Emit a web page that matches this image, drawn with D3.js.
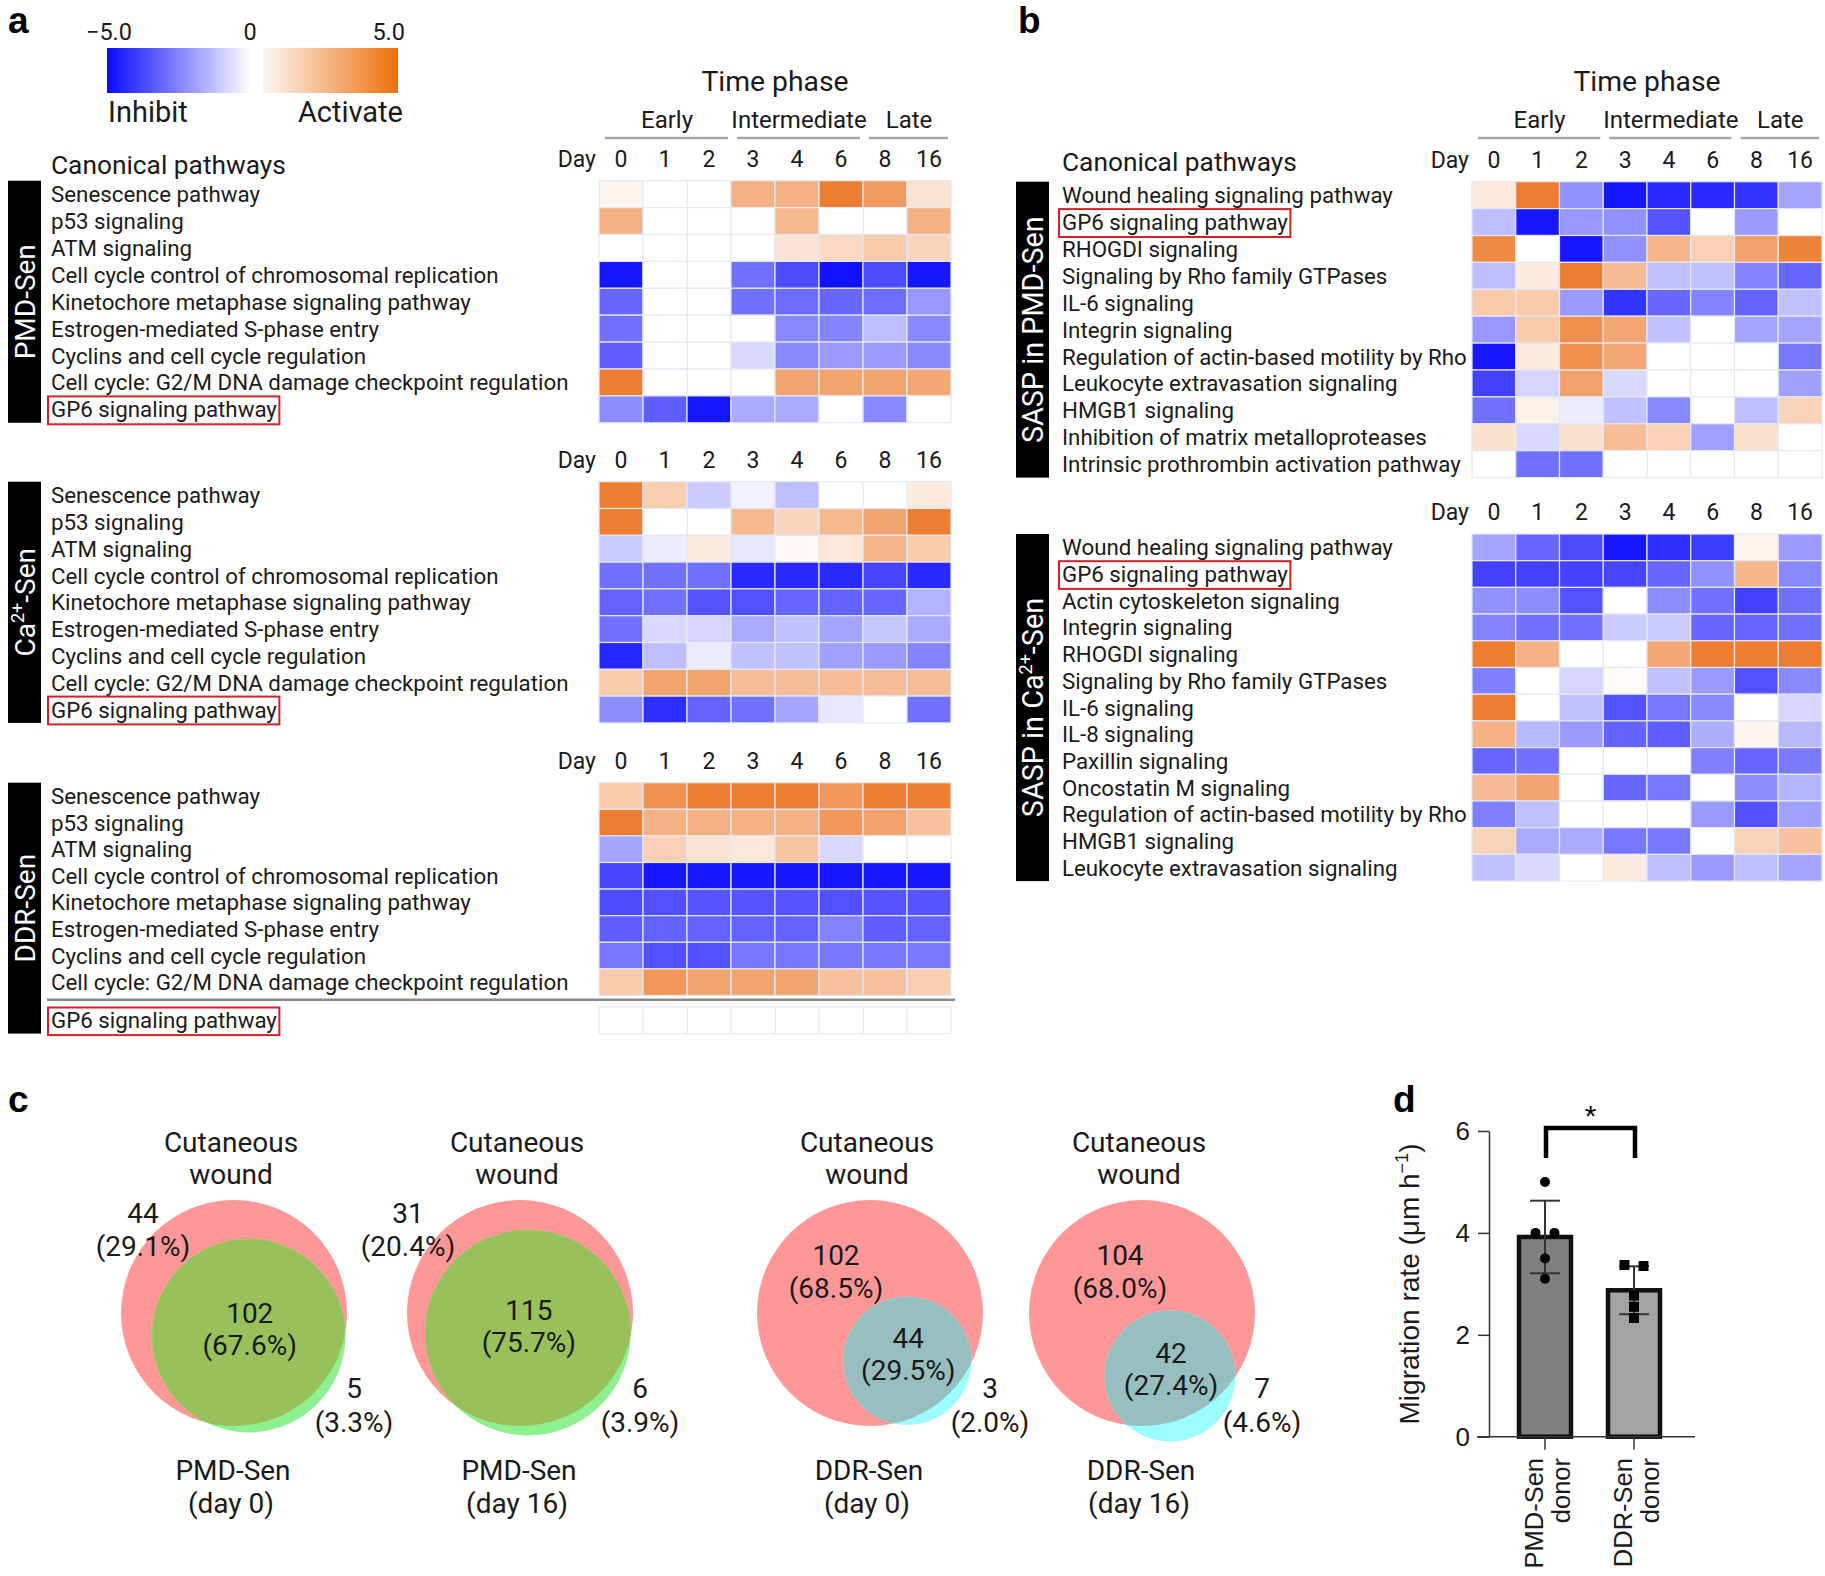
<!DOCTYPE html>
<html><head><meta charset="utf-8">
<script src="https://cdn.jsdelivr.net/npm/d3@7"></script>
<style>
body{margin:0;background:#fff;}
svg{display:block;font-family:Roboto,"Noto Sans",sans-serif;}
</style>
</head><body>
<svg id="fig" width="1825" height="1576"></svg>
<script>
// ---------------- DATA ----------------
const days = ["0","1","2","3","4","6","8","16"];
const phaseNames = ["Early","Intermediate","Late"];
const phaseStart = [0,3,6];
const phaseEnd = [2,5,7];
const legendTicks = ["\u22125.0","0","5.0"];
const legendWords = ["Inhibit","Activate"];

const cellPathways = ["Senescence pathway","p53 signaling","ATM signaling",
 "Cell cycle control of chromosomal replication","Kinetochore metaphase signaling pathway",
 "Estrogen-mediated S-phase entry","Cyclins and cell cycle regulation",
 "Cell cycle: G2/M DNA damage checkpoint regulation","GP6 signaling pathway"];

const pmdSenZ = [
 [0.4,0,0,3.0,3.0,5.0,3.9,1.1],
 [3.0,0,0,0,2.7,0,0,3.0],
 [0,0,0,0,1.1,1.5,2.0,1.6],
 [-4.9,0,0,-3.0,-3.8,-5.0,-3.8,-4.9],
 [-3.2,0,0,-3.0,-3.1,-3.2,-3.1,-2.2],
 [-3.0,0,0,0,-2.5,-2.6,-1.4,-2.5],
 [-3.4,0,0,-0.8,-2.5,-2.1,-2.1,-2.5],
 [5.0,0,0,0,3.5,3.5,3.5,3.4],
 [-2.4,-3.4,-4.9,-1.8,-1.8,0,-2.5,0]];
const caSenZ = [
 [5.0,1.9,-1.1,-0.3,-1.4,0,0,0.8],
 [5.0,0,0,2.7,1.6,2.7,3.5,5.0],
 [-1.1,-0.4,0.8,-0.5,0.3,0.9,2.8,2.0],
 [-3.0,-3.0,-3.0,-4.5,-4.5,-4.5,-3.9,-4.5],
 [-3.3,-3.0,-3.6,-3.7,-3.2,-3.3,-3.2,-1.6],
 [-3.0,-0.8,-0.9,-1.8,-1.3,-1.9,-1.2,-1.8],
 [-4.6,-1.4,-0.4,-1.3,-1.3,-2.0,-2.1,-2.6],
 [2.0,3.5,3.5,2.5,2.5,2.5,2.5,2.5],
 [-2.4,-4.4,-3.3,-3.0,-1.9,-0.5,0,-3.0]];
const ddrSenZ = [
 [2.0,4.2,5.0,5.0,5.0,4.0,5.0,5.0],
 [5.0,3.0,3.0,3.0,3.0,4.0,3.6,2.4],
 [-1.9,1.8,1.1,0.9,2.3,-0.8,0,0],
 [-3.9,-4.9,-4.9,-4.9,-4.9,-4.9,-4.9,-4.9],
 [-3.8,-3.7,-3.6,-3.6,-3.6,-3.7,-3.6,-3.6],
 [-3.4,-3.3,-3.3,-3.3,-3.3,-2.6,-3.4,-3.3],
 [-2.9,-3.7,-3.7,-2.9,-2.9,-2.9,-2.9,-2.8],
 [2.0,4.0,3.5,3.5,3.5,2.4,2.4,1.9],
 [0,0,0,0,0,0,0,0]];

const saspPmdPathways = ["Wound healing signaling pathway","GP6 signaling pathway","RHOGDI signaling",
 "Signaling by Rho family GTPases","IL-6 signaling","Integrin signaling",
 "Regulation of actin-based motility by Rho","Leukocyte extravasation signaling","HMGB1 signaling",
 "Inhibition of matrix metalloproteases","Intrinsic prothrombin activation pathway"];
const saspPmdZ = [
 [0.8,5.0,-2.3,-4.9,-4.5,-4.5,-4.3,-1.9],
 [-1.4,-4.9,-2.2,-2.3,-3.6,0,-2.1,0],
 [4.5,0,-4.9,-2.3,2.8,1.8,3.6,4.8],
 [-1.4,0.8,5.0,2.6,-1.3,-1.3,-2.6,-3.2],
 [2.0,2.0,-2.1,-4.3,-3.2,-2.6,-3.3,-1.3],
 [-2.2,2.0,4.3,3.4,-1.3,0,-1.9,-1.9],
 [-4.9,0.8,4.3,3.4,0,0,0,-2.9],
 [-4.0,-0.9,3.6,-0.8,0,0,0,-2.0],
 [-3.0,0.5,-0.4,-1.3,-2.5,0,-1.4,1.7],
 [1.2,-0.8,1.2,2.5,1.8,-2.0,1.2,0],
 [0,-3.0,-3.0,0,0,0,0,0]];

const saspCaPathways = ["Wound healing signaling pathway","GP6 signaling pathway","Actin cytoskeleton signaling",
 "Integrin signaling","RHOGDI signaling","Signaling by Rho family GTPases","IL-6 signaling","IL-8 signaling",
 "Paxillin signaling","Oncostatin M signaling","Regulation of actin-based motility by Rho",
 "HMGB1 signaling","Leukocyte extravasation signaling"];
const saspCaZ = [
 [-1.9,-3.2,-3.8,-4.9,-4.4,-4.1,0.4,-2.1],
 [-4.0,-4.0,-4.0,-3.9,-3.2,-2.3,2.8,-2.5],
 [-2.3,-2.4,-3.6,0,-2.4,-3.0,-4.0,-3.0],
 [-2.6,-3.0,-3.0,-1.1,-1.1,-3.2,-3.2,-3.0],
 [5.0,3.0,0,0,3.4,5.0,5.0,5.0],
 [-2.7,0,-0.9,0.2,-1.3,-2.1,-3.7,-2.5],
 [5.0,0,-1.3,-3.6,-2.9,-2.5,0,-0.9],
 [3.0,-1.5,-2.1,-3.3,-3.4,-1.7,0.4,-1.5],
 [-3.2,-3.0,0,0,0,-2.7,-3.2,-2.8],
 [2.6,3.5,0,-3.2,-2.9,0,-2.4,-1.6],
 [-2.7,-1.3,0,0,0,-2.1,-3.7,-2.0],
 [1.7,-1.8,-1.8,-2.9,-2.9,0,1.7,2.4],
 [-1.3,-0.8,0,0.8,-1.4,-2.1,-1.4,-1.9]];

// Venn (panel c)
const vennTitle = ["Cutaneous","wound"];
const vennSets = [["PMD-Sen","(day 0)"],["PMD-Sen","(day 16)"],["DDR-Sen","(day 0)"],["DDR-Sen","(day 16)"]];
const vennCounts = [[44,102,5],[31,115,6],[102,44,3],[104,42,7]]; // woundOnly, both, senOnly
const vennPercents = [["29.1%","67.6%","3.3%"],["20.4%","75.7%","3.9%"],["68.5%","29.5%","2.0%"],["68.0%","27.4%","4.6%"]];

// Bar chart (panel d)
const donorGroups = ["PMD-Sen donor","DDR-Sen donor"];
const pmdDonorRates = [5.0,4.0,4.0,3.5,3.1];
const ddrDonorRates = [3.37,3.35,2.77,2.55,2.33];
const yTicks = [0,2,4,6];

// ---------------- DRAW ----------------
const svg = d3.select("#fig");
const TXT = "#1a1a1a";
const LAB = 22.3;
const color = d3.scaleLinear().domain([-5,0,5]).range(["#1212ff","#ffffff","#ed7d31"]).clamp(true);

// panel letters
const letters = [["a",8,33],["b",1018,33],["c",8,1112],["d",1393,1112]];
svg.selectAll("text.panel").data(letters).join("text").attr("class","panel")
 .attr("x",d=>d[1]).attr("y",d=>d[2]).text(d=>d[0])
 .style("font-family","'Liberation Sans',Arial,sans-serif").style("font-weight","bold").style("font-size","37px").attr("fill","#000");

// legend
const defs = svg.append("defs");
const gb = defs.append("linearGradient").attr("id","gBlue");
gb.append("stop").attr("offset","0%").attr("stop-color","#0a0aff");
gb.append("stop").attr("offset","100%").attr("stop-color","#ffffff");
const go = defs.append("linearGradient").attr("id","gOrange");
go.append("stop").attr("offset","0%").attr("stop-color","#fdf6f1");
go.append("stop").attr("offset","100%").attr("stop-color","#ee700e");
const lg = svg.append("g");
const lx = d3.scaleLinear().domain([-5,0,5]).range([107,257,398]);
lg.append("rect").attr("x",lx(-5)).attr("y",48).attr("width",lx(0)-6-lx(-5)).attr("height",45).attr("fill","url(#gBlue)");
lg.append("rect").attr("x",lx(0)+6).attr("y",48).attr("width",lx(5)-lx(0)-6).attr("height",45).attr("fill","url(#gOrange)");
lg.selectAll("text.lt").data(legendTicks).join("text").attr("class","lt")
 .attr("x",(d,i)=>[lx(-5)+2,250,405][i]).attr("y",40)
 .attr("text-anchor",(d,i)=>i==2?"end":"middle").attr("font-size",23.5).attr("fill",TXT).text(d=>d);
lg.selectAll("text.lw").data(legendWords).join("text").attr("class","lw")
 .attr("x",(d,i)=>[108,403][i]).attr("y",122).attr("text-anchor",(d,i)=>i?"end":"start")
 .attr("font-size",29).attr("fill",TXT).text(d=>d);

// phase header
function phaseHeader(x0,x1){
 const x = d3.scaleBand().domain(days).range([x0,x1]);
 const g = svg.append("g");
 g.append("text").attr("x",(x0+x1)/2).attr("y",91).attr("text-anchor","middle").attr("font-size",28.3).attr("fill",TXT).text("Time phase");
 phaseNames.forEach((p,i)=>{
  const a = x(days[phaseStart[i]]), b = x(days[phaseEnd[i]])+x.bandwidth();
  g.append("text").attr("x",(a+b)/2+2).attr("y",128).attr("text-anchor","middle").attr("font-size",24).attr("fill",TXT).text(p);
  g.append("line").attr("x1",a+6).attr("x2",b-3).attr("y1",138).attr("y2",138).attr("stroke","#a8a8a8").attr("stroke-width",2.5);
 });
}
phaseHeader(599,951);
phaseHeader(1472,1822);

svg.append("text").attr("x",51).attr("y",174).attr("font-size",26.3).attr("fill",TXT).text("Canonical pathways");
svg.append("text").attr("x",1062).attr("y",171).attr("font-size",26.3).attr("fill",TXT).text("Canonical pathways");

function heatmap(o){
 const n = o.values.length;
 const x = d3.scaleBand().domain(days).range([o.x0,o.x1]);
 const yb = d3.scaleBand().domain(d3.range(n)).range([o.y0,o.y0+n*o.rowH]);
 const y = i => yb(i) + (o.gapAfter!=null && i>o.gapAfter ? o.gap : 0);
 const g = svg.append("g");
 const cells = [];
 o.values.forEach((row,r)=>row.forEach((v,c)=>cells.push({r,c,v})));
 g.selectAll("rect.cell").data(cells).join("rect").attr("class","cell")
  .attr("x",d=>x(days[d.c])).attr("y",d=>y(d.r)).attr("width",x.bandwidth()).attr("height",o.rowH)
  .attr("fill",d=>color(d.v)).attr("stroke","#e4e8f4").attr("stroke-width",1.2);
 // day row
 g.append("text").attr("x",o.x0-3).attr("y",o.dayY).attr("text-anchor","end").attr("font-size",23).attr("fill",TXT).text("Day");
 g.selectAll("text.day").data(days).join("text").attr("class","day")
  .attr("x",d=>x(d)+x.bandwidth()/2).attr("y",o.dayY).attr("text-anchor","middle").attr("font-size",23).attr("fill",TXT).text(d=>d);
 // labels
 const lab = g.selectAll("text.lab").data(o.labels).join("text").attr("class","lab")
  .attr("x",o.labelX).attr("y",(d,i)=>y(i)+o.rowH/2).attr("dy","0.36em").attr("font-size",LAB).attr("fill",TXT).text(d=>d);
 lab.each(function(d,i){
  if(d==="GP6 signaling pathway"){
   const bb = this.getBBox();
   g.append("rect").attr("x",bb.x-3).attr("y",y(i)+0.5).attr("width",bb.width+5).attr("height",o.rowH+1)
    .attr("fill","none").attr("stroke","#d4202a").attr("stroke-width",2);
  }
 });
 // side bar
 const yTop = o.y0, yBot = y(n-1)+o.rowH;
 g.append("rect").attr("x",o.barX).attr("y",yTop).attr("width",33).attr("height",yBot-yTop).attr("fill","#000");
 const t = g.append("text").attr("transform",`translate(${o.barX+16.5+10},${(yTop+yBot)/2}) rotate(-90)`)
  .attr("text-anchor","middle").attr("font-size",o.barFont||28).attr("fill","#fff");
 o.barLabel.forEach(s=>{
  const ts = t.append("tspan").text(s.t);
  if(s.sup){ ts.attr("font-size",18).attr("dy",-11); }
  else if(s.after){ ts.attr("dy",11); }
 });
 if(o.gapAfter!=null){
  const ly = y(o.gapAfter)+o.rowH+ o.gap/2 - 1.5;
  g.append("line").attr("x1",47).attr("x2",o.x1+4).attr("y1",ly).attr("y2",ly).attr("stroke","#8a8a8a").attr("stroke-width",2.5);
 }
}

heatmap({values:pmdSenZ,labels:cellPathways,x0:599,x1:951,y0:180.7,rowH:26.9,labelX:51,barX:8,dayY:167,
 barLabel:[{t:"PMD-Sen"}]});
heatmap({values:caSenZ,labels:cellPathways,x0:599,x1:951,y0:481.7,rowH:26.8,labelX:51,barX:8,dayY:468,
 barLabel:[{t:"Ca"},{t:"2+",sup:true},{t:"-Sen",after:true}]});
heatmap({values:ddrSenZ,labels:cellPathways,x0:599,x1:951,y0:782.7,rowH:26.6,labelX:51,barX:8,dayY:769,
 gapAfter:7,gap:11.5,barLabel:[{t:"DDR-Sen"}]});
heatmap({values:saspPmdZ,labels:saspPmdPathways,x0:1472,x1:1822,y0:181.7,rowH:26.9,labelX:1062,barX:1016,dayY:168,
 barFont:28.8,barLabel:[{t:"SASP in PMD-Sen"}]});
heatmap({values:saspCaZ,labels:saspCaPathways,x0:1472,x1:1822,y0:534,rowH:26.7,labelX:1062,barX:1016,dayY:520,
 barFont:28.8,barLabel:[{t:"SASP in Ca"},{t:"2+",sup:true},{t:"-Sen",after:true}]});

// ---------------- VENN ----------------
function lensArea(r1,r2,d){
 if(d>=r1+r2) return 0;
 if(d<=Math.abs(r1-r2)) return Math.PI*Math.min(r1,r2)**2;
 const a = r1*r1*Math.acos((d*d+r1*r1-r2*r2)/(2*d*r1));
 const b = r2*r2*Math.acos((d*d+r2*r2-r1*r1)/(2*d*r2));
 const c = 0.5*Math.sqrt((-d+r1+r2)*(d+r1-r2)*(d-r1+r2)*(d+r1+r2));
 return a+b-c;
}
const maxTotal = d3.max(vennCounts,d=>d[0]+d[1]);
const rScale = d3.scaleSqrt().domain([0,maxTotal]).range([0,113]);
const vennCxs = [234,520,870,1142];
const vennCy = 1313;
const vennAngle = [57,68,52,66];
const senColors = [["#8ff08f","#98c15c"],["#8ff08f","#98c15c"],["#9dfcff","#98bfc0"],["#9dfcff","#98bfc0"]];
const leftLab = [[-91,-90],[-112,-90],[-34,-48],[-22,-48]];
const VF = 28;
vennCounts.forEach((cnt,i)=>{
 const cx = vennCxs[i], cy = vennCy;
 const r1 = rScale(cnt[0]+cnt[1]), r2 = rScale(cnt[1]+cnt[2]);
 const target = Math.PI*rScale(cnt[1])**2;
 let lo = Math.abs(r1-r2)+1e-6, hi = r1+r2;
 for(let k=0;k<60;k++){ const m=(lo+hi)/2; if(lensArea(r1,r2,m)>target) lo=m; else hi=m; }
 const d = (lo+hi)/2, th = vennAngle[i]*Math.PI/180;
 const cx2 = cx + d*Math.cos(th), cy2 = cy + d*Math.sin(th);
 const g = svg.append("g");
 defs.append("clipPath").attr("id","vc"+i).append("circle").attr("cx",cx).attr("cy",cy).attr("r",r1);
 g.append("circle").attr("cx",cx).attr("cy",cy).attr("r",r1).attr("fill","#fe9898");
 g.append("circle").attr("cx",cx2).attr("cy",cy2).attr("r",r2).attr("fill",senColors[i][0]);
 g.append("circle").attr("cx",cx2).attr("cy",cy2).attr("r",r2).attr("fill",senColors[i][1]).attr("clip-path",`url(#vc${i})`);
 const T = (x,y,s)=>g.append("text").attr("x",x).attr("y",y).attr("text-anchor","middle").attr("font-size",VF).attr("fill",TXT).text(s);
 T(cx-3,1152,vennTitle[0]); T(cx-3,1184,vennTitle[1]);
 T(cx+leftLab[i][0],cy+leftLab[i][1],cnt[0]); T(cx+leftLab[i][0],cy+leftLab[i][1]+33,"("+vennPercents[i][0]+")");
 T(cx2+1,cy2-13,cnt[1]); T(cx2+1,cy2+19,"("+vennPercents[i][1]+")");
 T(cx+120,1398,cnt[2]); T(cx+120,1432,"("+vennPercents[i][2]+")");
 T(cx-1,1480,vennSets[i][0]); T(cx-3,1513,vennSets[i][1]);
});

// ---------------- BAR ----------------
const AR = "'Liberation Sans',Arial,sans-serif";
const yS = d3.scaleLinear().domain([0,6]).range([1436.7,1131]);
const xS = d3.scalePoint().domain(donorGroups).range([1545,1634]);
const bg = svg.append("g").style("font-family",AR);
const groupsData = [pmdDonorRates, ddrDonorRates];
const barFill = ["#808080","#a3a3a3"];
groupsData.forEach((vals,gi)=>{
 const m = d3.mean(vals), sd = d3.deviation(vals), xc = xS(donorGroups[gi]);
 bg.append("rect").attr("x",xc-26).attr("y",yS(m)).attr("width",52).attr("height",yS(0)-yS(m))
  .attr("fill",barFill[gi]).attr("stroke","#111").attr("stroke-width",4.5);
 bg.append("line").attr("x1",xc).attr("x2",xc).attr("y1",yS(m-sd)).attr("y2",yS(m+sd)).attr("stroke","#333").attr("stroke-width",2);
 [m-sd,m+sd].forEach(v=>bg.append("line").attr("x1",xc-15).attr("x2",xc+15).attr("y1",yS(v)).attr("y2",yS(v)).attr("stroke","#333").attr("stroke-width",2));
 vals.forEach((v,i)=>{
  const near = vals.map((w,j)=>j).filter(j=>Math.abs(vals[j]-v)<0.15);
  const k = near.indexOf(i), off = (k-(near.length-1)/2)*19;
  if(gi===0) bg.append("circle").attr("cx",xc+off).attr("cy",yS(v)).attr("r",5).attr("fill","#000");
  else bg.append("rect").attr("x",xc+off-5).attr("y",yS(v)-5).attr("width",10).attr("height",10).attr("fill","#000");
 });
});
const yAx = bg.append("g").attr("transform","translate(1489,0)")
 .call(d3.axisLeft(yS).tickValues(yTicks).tickSize(11).tickSizeOuter(0).tickPadding(8).tickFormat(d3.format("d")));
yAx.selectAll("text").attr("font-size",26).attr("fill",TXT).style("font-family",AR);
yAx.selectAll("line,path").attr("stroke","#333").attr("stroke-width",1.5);
bg.append("line").attr("x1",1477).attr("x2",1695).attr("y1",yS(0)).attr("y2",yS(0)).attr("stroke","#333").attr("stroke-width",1.5);
donorGroups.forEach(gn=>{
 const xc = xS(gn);
 bg.append("line").attr("x1",xc).attr("x2",xc).attr("y1",yS(0)).attr("y2",yS(0)+13).attr("stroke","#333").attr("stroke-width",1.5);
 const parts = gn.split(" ");
 const t = bg.append("text").attr("transform",`translate(${xc},1458) rotate(-90)`).attr("text-anchor","end").attr("font-size",25.5).attr("fill",TXT);
 t.append("tspan").attr("x",0).attr("y",-2).text(parts[0]);
 t.append("tspan").attr("x",0).attr("y",25).text(parts[1]);
});
const yt = bg.append("text").attr("transform",`translate(1419,1284) rotate(-90)`).attr("text-anchor","middle").attr("font-size",28).attr("fill",TXT);
yt.append("tspan").text("Migration rate (\u03bcm h");
yt.append("tspan").attr("font-size",18).attr("dy",-11).text("\u22121");
yt.append("tspan").attr("dy",11).text(")");
// significance
const x1b = xS(donorGroups[0]), x2b = xS(donorGroups[1]);
bg.append("path").attr("d",`M${x1b+1},1158V1128H${x2b+1}V1158`).attr("fill","none").attr("stroke","#000").attr("stroke-width",4.5);
bg.append("text").attr("x",(x1b+x2b)/2+1).attr("y",1126).attr("text-anchor","middle").attr("font-size",30).attr("fill","#000").text("*");
</script>
</body></html>
